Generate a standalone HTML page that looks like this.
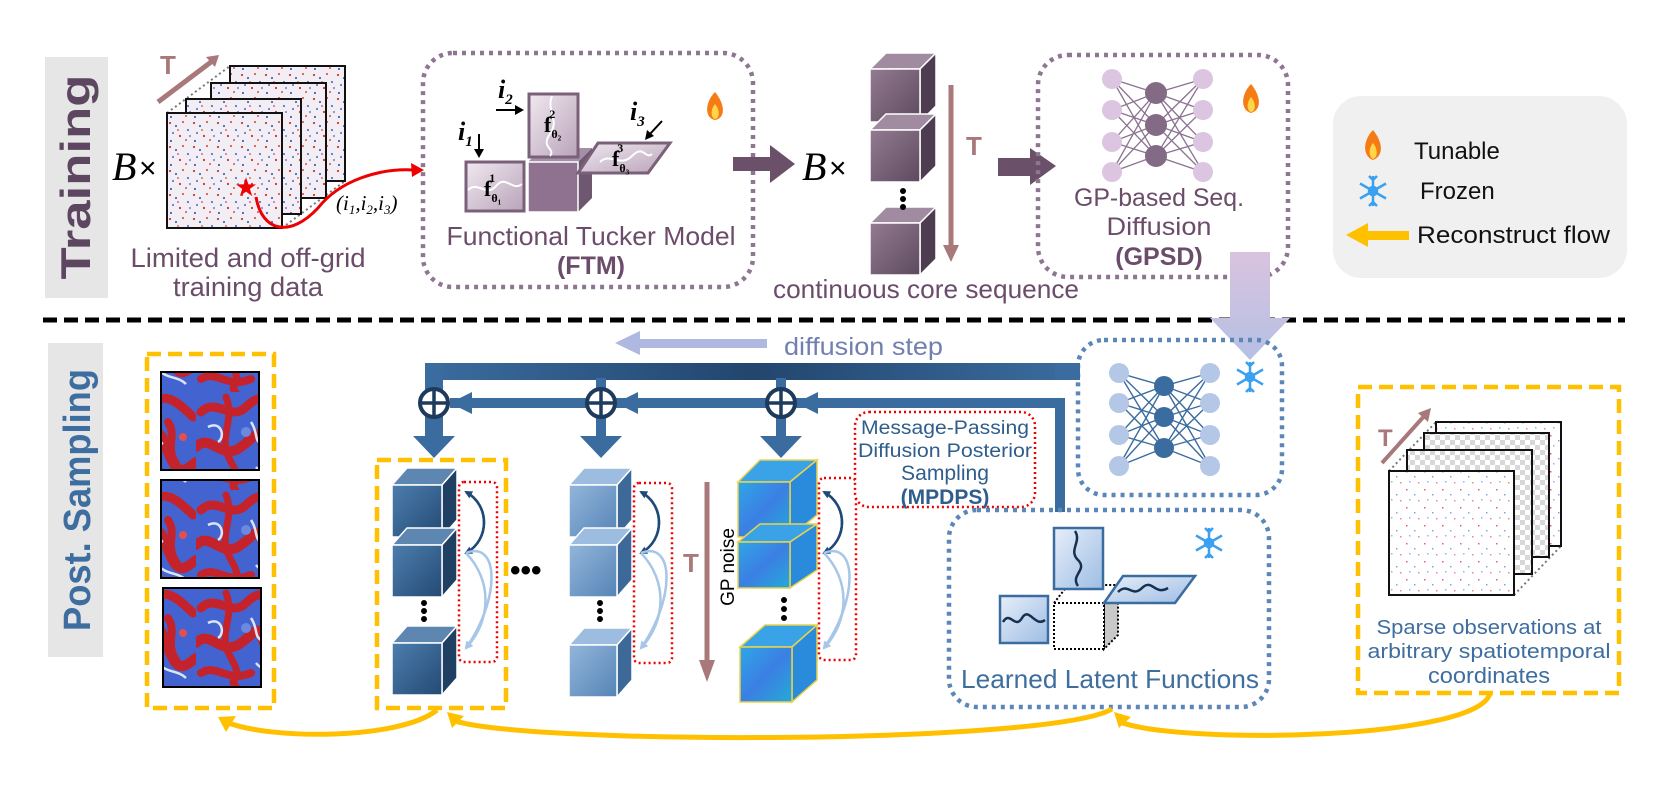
<!DOCTYPE html>
<html><head><meta charset="utf-8"><style>
html,body{margin:0;padding:0;background:#fff;}
svg{display:block;font-family:"Liberation Sans",sans-serif;}
</style></head><body>
<svg width="1660" height="793" viewBox="0 0 1660 793" xmlns="http://www.w3.org/2000/svg">
<defs>
<marker id="ad" markerWidth="8" markerHeight="8" refX="6" refY="4" orient="auto" markerUnits="userSpaceOnUse"><path d="M0,0 L8,4 L0,8Z" fill="#1d4a78"/></marker>
<marker id="al" markerWidth="8" markerHeight="8" refX="6" refY="4" orient="auto" markerUnits="userSpaceOnUse"><path d="M0,0 L8,4 L0,8Z" fill="#a7c6e8"/></marker>
<pattern id="spk" width="24" height="24" patternUnits="userSpaceOnUse">
<rect width="24" height="24" fill="#f3eef3"/>
<rect x="1" y="2" width="2" height="2" fill="#c9494f"/><rect x="7" y="5" width="2" height="2" fill="#5a72d0"/>
<rect x="14" y="1" width="2" height="2" fill="#d66"/><rect x="19" y="9" width="2" height="2" fill="#6a80d8"/>
<rect x="4" y="12" width="2" height="2" fill="#7088db"/><rect x="11" y="15" width="2" height="2" fill="#c44"/>
<rect x="17" y="19" width="2" height="2" fill="#d77"/><rect x="2" y="20" width="2" height="2" fill="#5870cc"/>
<rect x="9" y="9" width="2" height="2" fill="#e08a8a"/><rect x="21" y="15" width="2" height="2" fill="#889ce0"/>
</pattern>
<pattern id="sim" width="98" height="98" patternUnits="userSpaceOnUse">
<rect width="98" height="98" fill="#4363d0"/>
<g fill="none" stroke="#c4232c" stroke-linecap="round">
<path d="M5 20 C20 5 35 30 50 15 S75 5 95 25" stroke-width="9"/>
<path d="M0 55 C15 40 25 70 45 55 S60 35 70 60 S85 80 98 70" stroke-width="10"/>
<path d="M30 5 C40 30 20 45 35 70 S30 90 40 98" stroke-width="7"/>
<path d="M70 30 C80 45 65 55 80 75" stroke-width="8"/>
<path d="M5 85 C20 75 30 95 55 85" stroke-width="8"/>
</g>
<g fill="none" stroke="#dce4f7" stroke-width="2.5">
<path d="M12 35 C25 28 30 45 22 50"/><path d="M55 30 C62 40 58 48 65 52"/><path d="M60 75 C68 85 80 82 88 90"/>
</g>
<circle cx="85" cy="45" r="4" fill="#e05050"/><circle cx="50" cy="40" r="5" fill="#6a8ae0"/>
</pattern>
<pattern id="sparse" width="18" height="18" patternUnits="userSpaceOnUse">
<rect width="18" height="18" fill="#fff"/>
<rect x="2" y="3" width="1.5" height="1.5" fill="#e58"/><rect x="10" y="8" width="1.5" height="1.5" fill="#88a0e8"/>
<rect x="14" y="14" width="1.5" height="1.5" fill="#e88"/><rect x="5" y="13" width="1.5" height="1.5" fill="#a0b0ee"/>
</pattern>
<pattern id="chk" width="10" height="10" patternUnits="userSpaceOnUse">
<rect width="10" height="10" fill="#fff"/><rect width="5" height="5" fill="#d8d8d8"/><rect x="5" y="5" width="5" height="5" fill="#d8d8d8"/>
</pattern>
<linearGradient id="pur" x1="0" y1="0" x2="1" y2="1"><stop offset="0" stop-color="#937b92"/><stop offset="1" stop-color="#5d4a5e"/></linearGradient>
<linearGradient id="bd" x1="0" y1="0" x2="1" y2="1"><stop offset="0" stop-color="#4d7eaf"/><stop offset="1" stop-color="#234a73"/></linearGradient>
<linearGradient id="bl" x1="0" y1="0" x2="1" y2="1"><stop offset="0" stop-color="#93b6da"/><stop offset="1" stop-color="#5584b6"/></linearGradient>
<linearGradient id="nz" x1="0" y1="0" x2="1" y2="1"><stop offset="0" stop-color="#2fa6e8"/><stop offset="0.5" stop-color="#3b7fe3"/><stop offset="1" stop-color="#25a9d8"/></linearGradient>
<linearGradient id="fl" x1="0" y1="0" x2="1" y2="1"><stop offset="0" stop-color="#f0e9f0"/><stop offset="1" stop-color="#b9a3b9"/></linearGradient>
<linearGradient id="fb" x1="0" y1="0" x2="1" y2="1"><stop offset="0" stop-color="#e6eef9"/><stop offset="1" stop-color="#9ebde4"/></linearGradient>
<linearGradient id="thick" x1="0" y1="0" x2="1" y2="0"><stop offset="0" stop-color="#3b6c9f"/><stop offset="0.5" stop-color="#22466e"/><stop offset="1" stop-color="#3b6c9f"/></linearGradient>
<linearGradient id="lav" x1="0" y1="0" x2="0" y2="1"><stop offset="0" stop-color="#d9c3df"/><stop offset="1" stop-color="#b5c0e4"/></linearGradient>
<g id="snow" stroke-width="2.5" fill="none"><path d="M0 -15V15M-13 -7.5L13 7.5M-13 7.5L13 -7.5M-4 -15L0 -11L4 -15M-4 15L0 11L4 15"/><circle r="4"/></g>
</defs>

<rect x="45" y="57" width="63" height="241" fill="#e6e6e6"/>
<text transform="translate(90,177) rotate(-90)" text-anchor="middle" font-size="42" font-weight="bold" fill="#5d4660" textLength="205" lengthAdjust="spacingAndGlyphs">Training</text>
<rect x="48" y="343" width="55" height="314" fill="#e6e6e6"/>
<text transform="translate(90,500) rotate(-90)" text-anchor="middle" font-size="38" font-weight="bold" fill="#3e6d9f" textLength="262" lengthAdjust="spacingAndGlyphs">Post. Sampling</text>

<line x1="43" y1="320" x2="1625" y2="320" stroke="#000" stroke-width="5" stroke-dasharray="14,7"/>

<line x1="158" y1="102" x2="215" y2="59" stroke="#a9787a" stroke-width="5"/>
<polygon points="206,57 219,55 215,67" fill="#a9787a"/>
<text x="160" y="74" font-size="26" font-weight="bold" fill="#a9787a">T</text>
<line x1="167" y1="113" x2="230" y2="66" stroke="#777" stroke-width="2" stroke-dasharray="2,3"/>
<line x1="282" y1="228" x2="345" y2="181" stroke="#777" stroke-width="2" stroke-dasharray="2,3"/>
<line x1="282" y1="113" x2="345" y2="66" stroke="#777" stroke-width="2" stroke-dasharray="2,3"/>
<rect x="230" y="66" width="115" height="115" fill="url(#spk)" stroke="#111" stroke-width="2"/>
<rect x="211" y="83" width="115" height="115" fill="url(#spk)" stroke="#111" stroke-width="2"/>
<rect x="186" y="99" width="115" height="115" fill="url(#spk)" stroke="#111" stroke-width="2"/>
<rect x="167" y="113" width="115" height="115" fill="url(#spk)" stroke="#111" stroke-width="2"/>
<text x="112" y="180" font-size="40" font-style="italic" font-family="Liberation Serif,serif">B</text>
<text x="139" y="178" font-size="30">×</text>
<text x="246" y="196" font-size="26" fill="#e00" text-anchor="middle">★</text>
<path d="M256 197 C262 232 290 238 318 208 C340 180 380 168 414 170" stroke="#e00" stroke-width="3" fill="none"/>
<polygon points="424,170 411,163 412,177" fill="#e00"/>
<text x="336" y="210" font-size="21" font-family="Liberation Serif,serif" font-style="italic">(i<tspan font-size="13" dy="4">1</tspan><tspan dy="-4">,i</tspan><tspan font-size="13" dy="4">2</tspan><tspan dy="-4">,i</tspan><tspan font-size="13" dy="4">3</tspan><tspan dy="-4">)</tspan></text>
<text x="248" y="267" font-size="27" fill="#6b4c6a" text-anchor="middle" textLength="235" lengthAdjust="spacingAndGlyphs">Limited and off-grid</text>
<text x="248" y="296" font-size="27" fill="#6b4c6a" text-anchor="middle" textLength="150" lengthAdjust="spacingAndGlyphs">training data</text>

<rect x="423" y="53" width="330" height="234" rx="30" fill="none" stroke="#8e7592" stroke-width="4.5" stroke-dasharray="4,5"/>
<text x="498" y="98" font-size="26" font-style="italic" font-weight="bold" font-family="Liberation Serif,serif">i<tspan font-size="15" dy="6">2</tspan></text>
<line x1="496" y1="110" x2="518" y2="110" stroke="#000" stroke-width="2"/><polygon points="524,110 515,105 515,115"/>
<text x="458" y="140" font-size="26" font-style="italic" font-weight="bold" font-family="Liberation Serif,serif">i<tspan font-size="15" dy="6">1</tspan></text>
<line x1="479" y1="134" x2="479" y2="152" stroke="#000" stroke-width="2"/><polygon points="479,158 474,149 484,149"/>
<text x="630" y="120" font-size="26" font-style="italic" font-weight="bold" font-family="Liberation Serif,serif">i<tspan font-size="15" dy="6">3</tspan></text>
<line x1="662" y1="121" x2="650" y2="134" stroke="#000" stroke-width="2"/><polygon points="645,140 647,130 654,136"/>
<polygon points="578,162 592,148 592,198 578,212" fill="#6e5770"/>
<polygon points="528,162 542,148 592,148 578,162" fill="#a58fa6"/>
<rect x="528" y="162" width="50" height="50" fill="#8e7290" stroke="#fff" stroke-width="1.5"/>
<rect x="466" y="162" width="58" height="49" fill="url(#fl)" stroke="#7a6079" stroke-width="3"/>
<path d="M468 190 C478 180 486 198 496 186 S512 192 522 184" stroke="#fff" stroke-width="2" fill="none"/>
<rect x="529" y="94" width="49" height="63" fill="url(#fl)" stroke="#7a6079" stroke-width="3"/>
<path d="M552 96 C546 110 560 120 550 134 S556 148 550 156" stroke="#fff" stroke-width="2" fill="none"/>
<polygon points="578,173 598,143 670,143 648,173" fill="url(#fl)" stroke="#7a6079" stroke-width="3"/>
<path d="M600 162 C610 152 620 168 632 156 S645 160 652 154" stroke="#fff" stroke-width="2" fill="none"/>
<text x="484" y="196" font-size="22" font-weight="bold" font-family="Liberation Serif,serif">f<tspan font-size="12" dy="6">θ₁</tspan><tspan font-size="12" dx="-12" dy="-20">1</tspan></text>
<text x="544" y="132" font-size="22" font-weight="bold" font-family="Liberation Serif,serif">f<tspan font-size="12" dy="6">θ₂</tspan><tspan font-size="12" dx="-12" dy="-20">2</tspan></text>
<text x="612" y="166" font-size="22" font-weight="bold" font-family="Liberation Serif,serif">f<tspan font-size="12" dy="6">θ₃</tspan><tspan font-size="12" dx="-12" dy="-20">3</tspan></text>
<path d="M715 92 C705 102 704 118 715 120 C726 118 725 104 715 92Z" fill="#f57c14"/><path d="M715 104 C710 110 711 118 715 119 C720 118 720 110 715 104Z" fill="#ffd54a"/>
<text x="591" y="245" font-size="26" fill="#6b4c6a" text-anchor="middle" textLength="289" lengthAdjust="spacingAndGlyphs">Functional Tucker Model</text>
<text x="591" y="274" font-size="25" font-weight="bold" fill="#6b4c6a" text-anchor="middle">(FTM)</text>

<polygon points="733,157 770,157 770,145 795,164 770,183 770,171 733,171" fill="#6a5068"/>
<text x="802" y="180" font-size="40" font-style="italic" font-family="Liberation Serif,serif">B</text>
<text x="829" y="178" font-size="30">×</text>
<g stroke="#fff" stroke-width="1.5">
<polygon points="870,69 886,53 936,53 920,69" fill="#a08ba0"/><polygon points="920,69 936,53 936,106 920,122" fill="#4e3d50"/><rect x="870" y="69" width="50" height="53" fill="url(#pur)"/>
<polygon points="870,130 886,114 936,114 920,130" fill="#a08ba0"/><polygon points="920,130 936,114 936,166 920,182" fill="#4e3d50"/><rect x="870" y="130" width="50" height="52" fill="url(#pur)"/>
<polygon points="870,223 886,207 936,207 920,223" fill="#a08ba0"/><polygon points="920,223 936,207 936,259 920,275" fill="#4e3d50"/><rect x="870" y="223" width="50" height="52" fill="url(#pur)"/>
</g>
<circle cx="903" cy="191" r="3" fill="#000"/><circle cx="903" cy="199" r="3" fill="#000"/><circle cx="903" cy="207" r="3" fill="#000"/>
<line x1="951" y1="85" x2="951" y2="248" stroke="#a9787a" stroke-width="5"/><polygon points="943,245 959,245 951,262" fill="#a9787a"/>
<text x="966" y="155" font-size="26" font-weight="bold" fill="#a9787a">T</text>
<polygon points="998,158 1030,158 1030,148 1056,166 1030,185 1030,176 998,176" fill="#6a5068"/>
<text x="926" y="298" font-size="26" fill="#6b4c6a" text-anchor="middle" textLength="306" lengthAdjust="spacingAndGlyphs">continuous core sequence</text>

<rect x="1038" y="55" width="250" height="222" rx="30" fill="none" stroke="#8e7592" stroke-width="4.5" stroke-dasharray="4,5"/>
<g stroke="#8a7390" stroke-width="1.3">
<path d="M1112 79L1156 93M1112 79L1156 125M1112 79L1156 156M1112 110L1156 93M1112 110L1156 125M1112 110L1156 156M1112 142L1156 93M1112 142L1156 125M1112 142L1156 156M1112 172L1156 93M1112 172L1156 125M1112 172L1156 156"/>
<path d="M1203 79L1156 93M1203 79L1156 125M1203 79L1156 156M1203 110L1156 93M1203 110L1156 125M1203 110L1156 156M1203 142L1156 93M1203 142L1156 125M1203 142L1156 156M1203 172L1156 93M1203 172L1156 125M1203 172L1156 156"/>
</g>
<g fill="#dcc5e0"><circle cx="1112" cy="79" r="10"/><circle cx="1112" cy="110" r="10"/><circle cx="1112" cy="142" r="10"/><circle cx="1112" cy="172" r="10"/>
<circle cx="1203" cy="79" r="10"/><circle cx="1203" cy="110" r="10"/><circle cx="1203" cy="142" r="10"/><circle cx="1203" cy="172" r="10"/></g>
<g fill="#836a85"><circle cx="1156" cy="93" r="11"/><circle cx="1156" cy="125" r="11"/><circle cx="1156" cy="156" r="11"/></g>
<path d="M1251 84 C1241 94 1240 110 1251 113 C1262 110 1261 96 1251 84Z" fill="#f57c14"/><path d="M1251 97 C1246 103 1247 111 1251 112 C1256 111 1256 103 1251 97Z" fill="#ffd54a"/>
<text x="1159" y="206" font-size="25" fill="#6b4c6a" text-anchor="middle" textLength="170" lengthAdjust="spacingAndGlyphs">GP-based Seq.</text>
<text x="1159" y="235" font-size="25" fill="#6b4c6a" text-anchor="middle" textLength="105" lengthAdjust="spacingAndGlyphs">Diffusion</text>
<text x="1159" y="265" font-size="25" font-weight="bold" fill="#6b4c6a" text-anchor="middle">(GPSD)</text>
<polygon points="1230,252 1270,252 1270,318 1290,318 1250,360 1210,318 1230,318" fill="url(#lav)"/>

<rect x="1333" y="96" width="294" height="182" rx="28" fill="#f0f0f0"/>
<path d="M1373 130 C1363 140 1362 156 1373 160 C1384 156 1383 142 1373 130Z" fill="#f57c14"/><path d="M1373 143 C1368 149 1369 157 1373 159 C1378 157 1378 149 1373 143Z" fill="#ffd54a"/>
<text x="1414" y="159" font-size="24" fill="#111">Tunable</text>
<use href="#snow" x="1373" y="191" stroke="#3aa0f0"/>
<text x="1420" y="199" font-size="24" fill="#111">Frozen</text>
<rect x="1366" y="231" width="43" height="9" fill="#ffc000"/><polygon points="1346,235 1368,223 1368,247" fill="#ffc000"/>
<text x="1417" y="243" font-size="24" fill="#111" textLength="193" lengthAdjust="spacingAndGlyphs">Reconstruct flow</text>

<rect x="635" y="339" width="132" height="9" fill="#aeb8e0"/><polygon points="615,343 640,331 640,355" fill="#aeb8e0"/>
<text x="784" y="355" font-size="25" fill="#7280b0" textLength="159" lengthAdjust="spacingAndGlyphs">diffusion step</text>

<rect x="425" y="363" width="655" height="17" fill="url(#thick)"/>
<rect x="425" y="363" width="18" height="75" fill="#3b6c9f"/>
<rect x="450" y="398" width="614" height="10" fill="#3b6c9f"/>
<rect x="1055" y="398" width="10" height="114" fill="#3b6c9f"/>
<rect x="596" y="378" width="10" height="60" fill="#3b6c9f"/>
<rect x="776" y="378" width="10" height="60" fill="#3b6c9f"/>
<polygon points="413,436 455,436 434,458" fill="#3b6c9f"/>
<polygon points="580,436 622,436 601,458" fill="#3b6c9f"/>
<polygon points="760,436 802,436 781,458" fill="#3b6c9f"/>
<polygon points="450,403 472,392 472,414" fill="#3b6c9f"/>
<polygon points="616,403 638,392 638,414" fill="#3b6c9f"/>
<polygon points="796,403 818,392 818,414" fill="#3b6c9f"/>
<g fill="#fff" stroke="#1d3b5c" stroke-width="4">
<circle cx="434" cy="403" r="14"/><circle cx="601" cy="403" r="14"/><circle cx="781" cy="403" r="14"/></g>
<g stroke="#1d3b5c" stroke-width="3.5"><path d="M434 389V417M420 403H448M601 389V417M587 403H615M781 389V417M767 403H795"/></g>

<rect x="147" y="354" width="127" height="354" fill="none" stroke="#ffc000" stroke-width="4.5" stroke-dasharray="14,7"/>
<rect x="161" y="372" width="98" height="98" fill="url(#sim)" stroke="#000" stroke-width="2"/>
<rect x="161" y="480" width="98" height="98" fill="url(#sim)" stroke="#000" stroke-width="2"/>
<rect x="163" y="588" width="98" height="99" fill="url(#sim)" stroke="#000" stroke-width="2"/>

<rect x="377" y="460" width="129" height="248" fill="none" stroke="#ffc000" stroke-width="4.5" stroke-dasharray="14,7"/>
<g stroke="#fff" stroke-width="1.5">
<polygon points="392,485 407,468 457,468 442,485" fill="#5d86b1"/><polygon points="442,485 457,468 457,520 442,537" fill="#1f3f63"/><rect x="392" y="485" width="50" height="52" fill="url(#bd)"/>
<polygon points="392,545 407,528 457,528 442,545" fill="#5d86b1"/><polygon points="442,545 457,528 457,580 442,597" fill="#1f3f63"/><rect x="392" y="545" width="50" height="52" fill="url(#bd)"/>
<polygon points="392,643 407,626 457,626 442,643" fill="#5d86b1"/><polygon points="442,643 457,626 457,678 442,695" fill="#1f3f63"/><rect x="392" y="643" width="50" height="52" fill="url(#bd)"/>
</g>
<circle cx="424" cy="603" r="3" fill="#000"/><circle cx="424" cy="611" r="3" fill="#000"/><circle cx="424" cy="619" r="3" fill="#000"/>
<rect x="459" y="482" width="38" height="180" rx="5" fill="none" stroke="#e00" stroke-width="2.5" stroke-dasharray="2,3"/>
<g fill="none" stroke-width="2.5">
<path d="M466 553 C490 540 490 505 466 492" stroke="#1d4a78" marker-end="url(#ad)"/>
<path d="M466 492 C490 505 490 540 466 553" stroke="#1d4a78" marker-end="url(#ad)"/>
<path d="M466 553 C500 540 500 600 466 648" stroke="#a7c6e8" marker-end="url(#al)"/><path d="M466 553 C492 580 492 620 466 648" stroke="#a7c6e8" marker-end="url(#al)"/>
</g>
<text x="510" y="580" font-size="30" font-weight="bold">•••</text>

<g stroke="#fff" stroke-width="1.5">
<polygon points="569,485 584,468 632,468 617,485" fill="#9dbde0"/><polygon points="617,485 632,468 632,520 617,537" fill="#3d6998"/><rect x="569" y="485" width="48" height="52" fill="url(#bl)"/>
<polygon points="569,545 584,528 632,528 617,545" fill="#9dbde0"/><polygon points="617,545 632,528 632,580 617,597" fill="#3d6998"/><rect x="569" y="545" width="48" height="52" fill="url(#bl)"/>
<polygon points="569,645 584,628 632,628 617,645" fill="#9dbde0"/><polygon points="617,645 632,628 632,680 617,697" fill="#3d6998"/><rect x="569" y="645" width="48" height="52" fill="url(#bl)"/>
</g>
<circle cx="600" cy="603" r="3" fill="#000"/><circle cx="600" cy="611" r="3" fill="#000"/><circle cx="600" cy="619" r="3" fill="#000"/>
<rect x="634" y="483" width="38" height="180" rx="5" fill="none" stroke="#e00" stroke-width="2.5" stroke-dasharray="2,3"/>
<g fill="none" stroke-width="2.5">
<path d="M641 553 C665 540 665 505 641 492" stroke="#1d4a78" marker-end="url(#ad)"/>
<path d="M641 492 C665 505 665 540 641 553" stroke="#1d4a78" marker-end="url(#ad)"/>
<path d="M641 553 C675 540 675 600 641 648" stroke="#a7c6e8" marker-end="url(#al)"/><path d="M641 553 C667 580 667 620 641 648" stroke="#a7c6e8" marker-end="url(#al)"/>
</g>

<line x1="707" y1="482" x2="707" y2="665" stroke="#a9787a" stroke-width="5"/><polygon points="699,660 715,660 707,682" fill="#a9787a"/>
<text x="683" y="572" font-size="26" font-weight="bold" fill="#a9787a">T</text>
<text transform="translate(734,567) rotate(-90)" text-anchor="middle" font-size="19">GP noise</text>

<g stroke="#e7d44c" stroke-width="1.5">
<polygon points="738,482 760,460 817,460 790,482" fill="#3aa2e6"/><polygon points="790,482 817,460 817,515 790,537" fill="#2a8bdc"/><rect x="738" y="482" width="52" height="55" fill="url(#nz)"/>
<polygon points="738,542 760,524 817,524 790,542" fill="#3aa2e6"/><polygon points="790,542 817,524 817,570 790,588" fill="#2a8bdc"/><rect x="738" y="542" width="52" height="46" fill="url(#nz)"/>
<polygon points="740,647 765,625 817,625 792,647" fill="#3aa2e6"/><polygon points="792,647 817,625 817,680 792,702" fill="#2a8bdc"/><rect x="740" y="647" width="52" height="55" fill="url(#nz)"/>
</g>
<circle cx="784" cy="600" r="3" fill="#000"/><circle cx="784" cy="609" r="3" fill="#000"/><circle cx="784" cy="618" r="3" fill="#000"/>
<rect x="819" y="478" width="37" height="182" rx="5" fill="none" stroke="#e00" stroke-width="2.5" stroke-dasharray="2,3"/>
<g fill="none" stroke-width="2.5">
<path d="M824 553 C848 540 848 505 824 492" stroke="#1d4a78" marker-end="url(#ad)"/>
<path d="M824 492 C848 505 848 540 824 553" stroke="#1d4a78" marker-end="url(#ad)"/>
<path d="M824 553 C858 540 858 600 824 648" stroke="#a7c6e8" marker-end="url(#al)"/><path d="M824 553 C850 580 850 620 824 648" stroke="#a7c6e8" marker-end="url(#al)"/>
</g>

<rect x="855" y="412" width="180" height="95" rx="14" fill="#fff" stroke="#e00" stroke-width="2.5" stroke-dasharray="2,3"/>
<text x="945" y="434" font-size="19" fill="#2f5d8c" text-anchor="middle" textLength="168" lengthAdjust="spacingAndGlyphs">Message-Passing</text>
<text x="945" y="457" font-size="19" fill="#2f5d8c" text-anchor="middle" textLength="174" lengthAdjust="spacingAndGlyphs">Diffusion Posterior</text>
<text x="945" y="480" font-size="21" fill="#2f5d8c" text-anchor="middle" textLength="88" lengthAdjust="spacingAndGlyphs">Sampling</text>
<text x="945" y="504" font-size="21" font-weight="bold" fill="#2f5d8c" text-anchor="middle">(MPDPS)</text>

<rect x="1078" y="340" width="204" height="155" rx="26" fill="none" stroke="#5b87b8" stroke-width="4.5" stroke-dasharray="4,5"/>
<rect x="1055" y="363" width="25" height="17" fill="#3b6c9f"/>
<g stroke="#3b6c9f" stroke-width="1.4">
<path d="M1119 373L1164 386M1119 373L1164 417M1119 373L1164 448M1119 403L1164 386M1119 403L1164 417M1119 403L1164 448M1119 435L1164 386M1119 435L1164 417M1119 435L1164 448M1119 466L1164 386M1119 466L1164 417M1119 466L1164 448"/>
<path d="M1210 373L1164 386M1210 373L1164 417M1210 373L1164 448M1210 403L1164 386M1210 403L1164 417M1210 403L1164 448M1210 435L1164 386M1210 435L1164 417M1210 435L1164 448M1210 466L1164 386M1210 466L1164 417M1210 466L1164 448"/>
</g>
<g fill="#b4c7e7"><circle cx="1119" cy="373" r="10"/><circle cx="1119" cy="403" r="10"/><circle cx="1119" cy="435" r="10"/><circle cx="1119" cy="466" r="10"/>
<circle cx="1210" cy="373" r="10"/><circle cx="1210" cy="403" r="10"/><circle cx="1210" cy="435" r="10"/><circle cx="1210" cy="466" r="10"/></g>
<g fill="#3b6c9f"><circle cx="1164" cy="386" r="10"/><circle cx="1164" cy="417" r="10"/><circle cx="1164" cy="448" r="10"/></g>
<use href="#snow" x="1250" y="377" stroke="#3aa0f0"/>

<rect x="949" y="510" width="320" height="197" rx="28" fill="none" stroke="#5b87b8" stroke-width="4.5" stroke-dasharray="4,5"/>
<use href="#snow" x="1209" y="543" stroke="#3aa0f0"/>
<polygon points="1104,603 1118,583 1118,635 1104,649" fill="#c8c8c8" stroke="#000" stroke-width="2" stroke-dasharray="2,2"/>
<rect x="1054" y="603" width="50" height="46" fill="#fff" stroke="#000" stroke-width="2" stroke-dasharray="2,2"/>
<polyline points="1054,603 1068,585 1118,585" fill="none" stroke="#000" stroke-width="2" stroke-dasharray="2,2"/>
<rect x="1054" y="528" width="49" height="61" fill="url(#fb)" stroke="#3b6c9f" stroke-width="2.5"/>
<path d="M1075 531 C1082 542 1068 550 1078 560 S1070 575 1078 586" stroke="#16304f" stroke-width="2.5" fill="none"/>
<rect x="1000" y="596" width="48" height="47" fill="url(#fb)" stroke="#3b6c9f" stroke-width="2.5"/>
<path d="M1003 622 C1010 610 1015 630 1022 618 S1035 628 1045 620" stroke="#16304f" stroke-width="2.5" fill="none"/>
<polygon points="1104,603 1123,576 1195,576 1175,603" fill="url(#fb)" stroke="#3b6c9f" stroke-width="2.5"/>
<path d="M1118 592 C1128 582 1132 598 1142 588 S1155 596 1168 588" stroke="#16304f" stroke-width="2.5" fill="none"/>
<text x="1110" y="688" font-size="26" fill="#3e6d9f" text-anchor="middle" textLength="298" lengthAdjust="spacingAndGlyphs">Learned Latent Functions</text>

<rect x="1358" y="387" width="261" height="306" fill="none" stroke="#ffc000" stroke-width="4.5" stroke-dasharray="14,7"/>
<line x1="1382" y1="463" x2="1426" y2="414" stroke="#a9787a" stroke-width="4"/><polygon points="1431,408 1418,413 1428,422" fill="#a9787a"/>
<text x="1378" y="446" font-size="24" font-weight="bold" fill="#a9787a">T</text>
<line x1="1389" y1="471" x2="1436" y2="422" stroke="#777" stroke-width="2" stroke-dasharray="2,3"/>
<line x1="1514" y1="595" x2="1561" y2="546" stroke="#777" stroke-width="2" stroke-dasharray="2,3"/>
<rect x="1436" y="422" width="125" height="124" fill="url(#sparse)" stroke="#111" stroke-width="2"/>
<rect x="1424" y="433" width="125" height="124" fill="url(#chk)" stroke="#111" stroke-width="2"/>
<rect x="1407" y="450" width="125" height="124" fill="url(#chk)" stroke="#111" stroke-width="2"/>
<rect x="1389" y="471" width="125" height="124" fill="url(#sparse)" stroke="#111" stroke-width="2"/>
<text x="1489" y="634" font-size="20" fill="#3e6d9f" text-anchor="middle" textLength="225" lengthAdjust="spacingAndGlyphs">Sparse observations at</text>
<text x="1489" y="658" font-size="20" fill="#3e6d9f" text-anchor="middle" textLength="243" lengthAdjust="spacingAndGlyphs">arbitrary spatiotemporal</text>
<text x="1489" y="683" font-size="22" fill="#3e6d9f" text-anchor="middle" textLength="122" lengthAdjust="spacingAndGlyphs">coordinates</text>

<g fill="none" stroke="#ffc000" stroke-width="5">
<path d="M437 710 C400 740 270 740 226 722"/>
<path d="M1112 709 C1050 745 520 745 452 720"/>
<path d="M1490 693 C1480 740 1180 745 1120 722"/>
</g>
<g fill="#ffc000">
<polygon points="218,717 236,716 226,732"/>
<polygon points="447,712 464,716 452,728"/>
<polygon points="1114,712 1131,717 1119,728"/>
</g>
</svg>
</body></html>
